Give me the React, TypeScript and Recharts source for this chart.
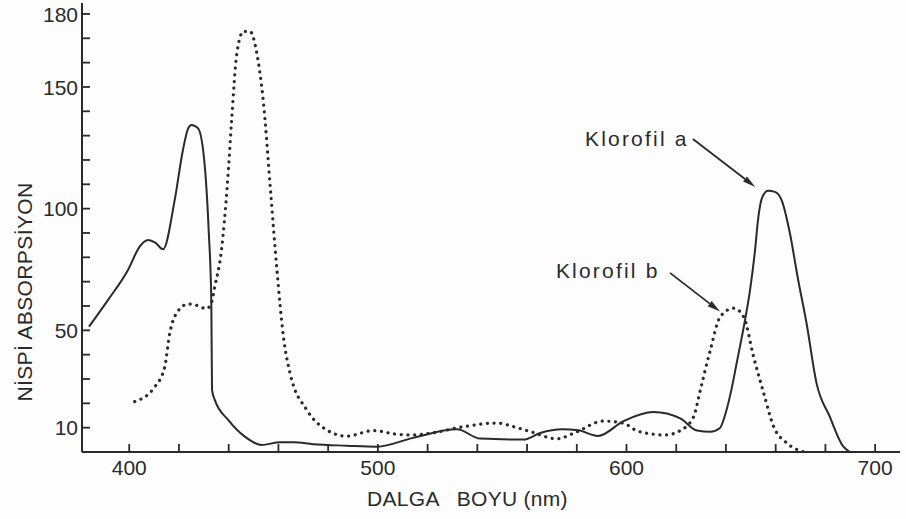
import React from 'react';
import { LineChart, Line, XAxis, YAxis, ReferenceLine, ReferenceDot, Label } from 'recharts';

// Klorofil a (solid)
const chlAWavelengths = [383.8, 391.5, 399.5, 404.2, 407.6, 410.5, 413.6, 418.3, 421.6, 423.7, 425, 427.7, 430.4, 432, 433, 433.3, 434.4, 439.8, 446.5, 453.2, 460.7, 466, 474, 487.5, 499.6, 514.2, 531.8, 541.2, 558.6, 565.3, 574.2, 580.6, 588.6, 598.8, 610.9, 621.6, 628.4, 633.7, 637.6, 640.0, 642.0, 644.4, 647.3, 649.7, 651.7, 652.9, 654.5, 656.9, 659.7, 662.5, 665.7, 668.9, 672.4, 676.4, 681.8, 687.0, 689.8];
const chlAValues = [51.5, 62.5, 74.8, 84.4, 87.1, 86, 83.3, 103.6, 124.1, 133, 134.4, 133, 117.3, 90, 62.5, 25.5, 21.4, 13.2, 6.3, 2.9, 4.0, 4.0, 3.2, 2.6, 2.2, 5.8, 9.3, 5.5, 5.1, 7.8, 9.3, 8.9, 6.6, 12.7, 16.4, 13.8, 8.8, 8.3, 9.9, 16.4, 24.7, 37.0, 52.2, 66.6, 83.0, 95.4, 104.4, 107.3, 106.9, 103.2, 90.0, 71.5, 53.0, 28.4, 14.4, 2.5, 0];

// Klorofil b (dotted)
const chlBWavelengths = [402.2, 410.3, 414.3, 416.3, 419, 423.7, 428, 431, 433, 434.4, 437.1, 439.4, 441.2, 443.3, 445.9, 448.6, 451.3, 454, 456.7, 459.4, 462, 464.7, 471.4, 479.5, 487.5, 498.2, 507.6, 514.3, 521, 534.4, 547.9, 554.6, 561.3, 572, 579.4, 590.7, 598.8, 604.7, 615.6, 621.6, 627, 629.7, 633.7, 637.7, 643.1, 647.1, 651.1, 655.2, 659.2, 664.6, 671.3];
const chlBValues = [20.7, 26.8, 35.1, 48.8, 57, 60.8, 60, 58.8, 61.1, 67.9, 83, 109, 136.5, 163.9, 172.8, 172.8, 163.9, 143.3, 109, 74.8, 47.4, 32.3, 17.3, 9.0, 6.5, 8.8, 7.3, 7.0, 7.7, 10.4, 11.9, 10.4, 8.4, 5.4, 8.0, 12.7, 11.8, 8.5, 7.0, 8.8, 14.5, 25.5, 41.9, 55.6, 59.1, 55.6, 39.2, 24.1, 10.4, 3.6, 0];

const xTicks = [400, 420, 440, 460, 480, 500, 520, 540, 560, 580, 600, 620, 640, 660, 680, 700];
const xTickLabels = [400, 500, 600, 700];
const yTicks = [10, 20, 30, 40, 50, 60, 70, 80, 90, 100, 110, 120, 130, 140, 150, 160, 170, 180];
const yTickLabels = [10, 50, 100, 150, 180];

const xDomain: [number, number] = [381, 710];
const yDomain: [number, number] = [0, 184.5];

// annotations: [wavelength, value]
const labelA = { text: 'Klorofil a', at: [583.3, 125.8], arrowFrom: [626.7, 128.6], arrowTo: [651.8, 108.9] };
const labelB = { text: 'Klorofil b', at: [571.6, 71.5], arrowFrom: [617.5, 73.6], arrowTo: [637.6, 57.7] };

const chlA = chlAWavelengths.map((nm, i) => ({ nm, v: chlAValues[i] }));
const chlB = chlBWavelengths.map((nm, i) => ({ nm, v: chlBValues[i] }));

const ink = '#2a2a2a';
const font = '"Liberation Sans", Arial, sans-serif';

const YTick = (props: any) => {
  const { x, y, payload } = props;
  const show = yTickLabels.includes(payload.value);
  return (
    <g>
      <line x1={x} x2={x + 8} y1={y} y2={y} stroke={ink} strokeWidth={1.8} />
      {show && (
        <text x={x - 4} y={y} dy="0.36em" textAnchor="end" fill={ink} fontSize={21} fontFamily={font}>
          {payload.value}
        </text>
      )}
    </g>
  );
};

const XTick = (props: any) => {
  const { x, y, payload } = props;
  const show = xTickLabels.includes(payload.value);
  return (
    <g>
      <line x1={x} x2={x} y1={y} y2={y - 8} stroke={ink} strokeWidth={1.8} />
      {show && (
        <text x={x} y={y + 23} textAnchor="middle" fill={ink} fontSize={21} fontFamily={font}>
          {payload.value}
        </text>
      )}
    </g>
  );
};

const Arrow = (props: any) => {
  const { x1, y1, x2, y2 } = props;
  const dx = x2 - x1;
  const dy = y2 - y1;
  const len = Math.sqrt(dx * dx + dy * dy);
  const ux = dx / len;
  const uy = dy / len;
  const hl = 13;
  const hw = 3.2;
  const bx = x2 - ux * hl;
  const by = y2 - uy * hl;
  return (
    <g>
      <line x1={x1} y1={y1} x2={bx} y2={by} stroke={ink} strokeWidth={1.8} />
      <polygon
        points={`${x2},${y2} ${bx - uy * hw},${by + ux * hw} ${bx + uy * hw},${by - ux * hw}`}
        fill={ink}
      />
    </g>
  );
};

const makeTextShape = (text: string) => (props: any) => {
  const { cx, cy } = props;
  return (
    <text x={cx} y={cy} fill={ink} fontSize={21} fontFamily={font} letterSpacing={2.2}>
      {text}
    </text>
  );
};

export default function App() {
  return (
    <div style={{ position: 'absolute', left: 0, top: 0, width: 906, height: 519, background: '#fdfdfd' }}>
      <LineChart width={906} height={519} margin={{ top: 3, right: 6, bottom: 0, left: 0 }}>
        <XAxis
          dataKey="nm"
          type="number"
          domain={xDomain}
          ticks={xTicks}
          interval={0}
          allowDataOverflow
          height={67}
          tickSize={0}
          tickMargin={0}
          tickLine={false}
          axisLine={{ stroke: ink, strokeWidth: 2 }}
          tick={<XTick />}
        >
          <Label
            content={() => (
              <text x={367} y={506} textAnchor="start" fill={ink} fontSize={21} fontFamily={font} letterSpacing={0.3}>
                <tspan>DALGA</tspan>
                <tspan dx={17}>BOYU (nm)</tspan>
              </text>
            )}
          />
        </XAxis>
        <YAxis
          type="number"
          domain={yDomain}
          ticks={yTicks}
          interval={0}
          allowDataOverflow
          width={82}
          tickSize={0}
          tickMargin={0}
          tickLine={false}
          axisLine={{ stroke: ink, strokeWidth: 2 }}
          tick={<YTick />}
        >
          <Label
            content={() => (
              <text x={24} y={292} transform="rotate(-90, 24, 292)" textAnchor="middle" dy="0.36em" fill={ink} fontSize={21} fontFamily={font} letterSpacing={0.4}>
                NİSPİ ABSORPSİYON
              </text>
            )}
          />
        </YAxis>
        <Line
          data={chlA}
          dataKey="v"
          type="monotone"
          stroke={ink}
          strokeWidth={2}
          dot={false}
          activeDot={false}
          isAnimationActive={false}
        />
        <Line
          data={chlB}
          dataKey="v"
          type="monotone"
          stroke={ink}
          strokeWidth={3.2}
          strokeDasharray="0.1 6.6"
          strokeLinecap="round"
          dot={false}
          activeDot={false}
          isAnimationActive={false}
        />
        <ReferenceLine
          segment={[{ x: labelA.arrowFrom[0], y: labelA.arrowFrom[1] }, { x: labelA.arrowTo[0], y: labelA.arrowTo[1] }]}
          shape={<Arrow />}
          ifOverflow="visible"
        />
        <ReferenceLine
          segment={[{ x: labelB.arrowFrom[0], y: labelB.arrowFrom[1] }, { x: labelB.arrowTo[0], y: labelB.arrowTo[1] }]}
          shape={<Arrow />}
          ifOverflow="visible"
        />
        <ReferenceDot x={labelA.at[0]} y={labelA.at[1]} r={0} shape={makeTextShape(labelA.text)} ifOverflow="visible" />
        <ReferenceDot x={labelB.at[0]} y={labelB.at[1]} r={0} shape={makeTextShape(labelB.text)} ifOverflow="visible" />
      </LineChart>
    </div>
  );
}
